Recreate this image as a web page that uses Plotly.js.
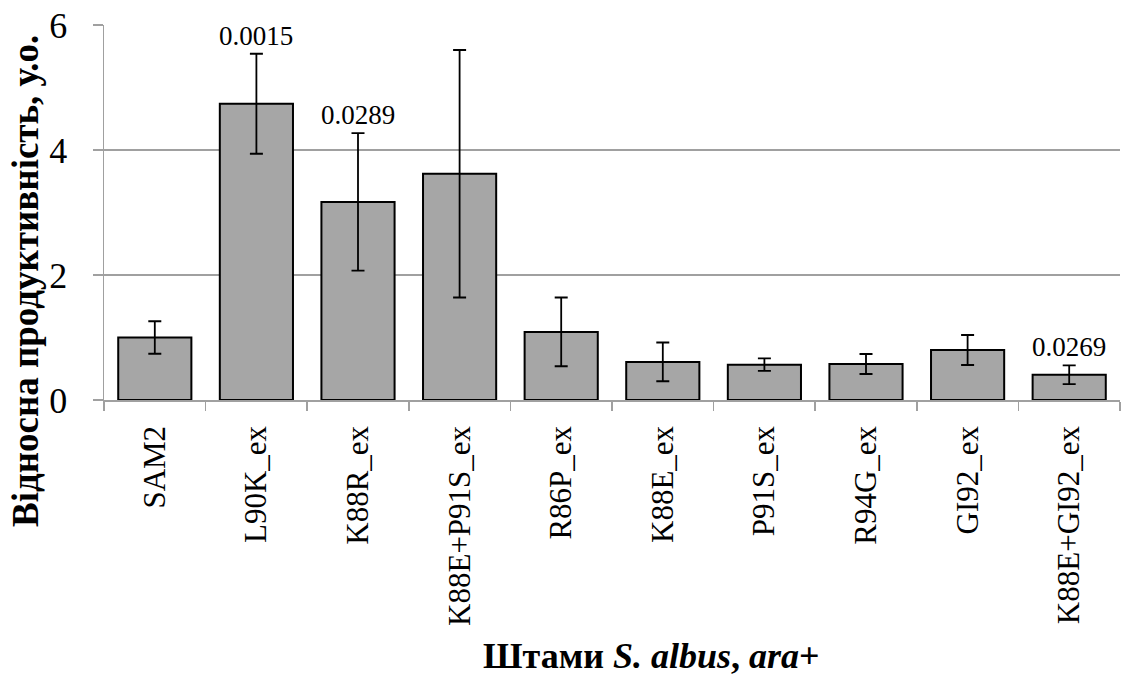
<!DOCTYPE html>
<html><head><meta charset="utf-8">
<script src="https://cdn.plot.ly/plotly-3.0.1.min.js"></script>
<style>html,body{margin:0;padding:0;background:#fff}#chart{width:1123px;height:681px}</style>
</head><body><div id="chart"></div>
<script>
const categories = ["SAM2","L90K_ex","K88R_ex","K88E+P91S_ex","R86P_ex","K88E_ex","P91S_ex","R94G_ex","GI92_ex","K88E+GI92_ex"];
const values = [1.00, 4.74, 3.17, 3.62, 1.09, 0.61, 0.565, 0.576, 0.80, 0.405];
const errors = [0.26, 0.80, 1.10, 1.98, 0.55, 0.31, 0.10, 0.16, 0.24, 0.15];
const pLabels = ["", "0.0015", "0.0289", "", "", "", "", "", "", "0.0269"];
const yTicks = [0, 2, 4, 6];
const xTitle = "<b>Штами <i>S. albus</i>, <i>ara</i>+</b>";
const yTitle = "<b>Відносна продуктивність, у.о.</b>";

const font = "Liberation Serif";
const annotations = [];
categories.forEach((c, i) => {
  if (pLabels[i]) annotations.push({
    x: c, y: values[i] + errors[i], text: pLabels[i], showarrow: false,
    yanchor: "bottom", yshift: 1, font: {family: font, size: 27, color: "#000"}
  });
});
annotations.push({
  xref: "paper", yref: "paper", x: 0.539, y: -0.683, xanchor: "center", yanchor: "middle",
  text: xTitle, showarrow: false, font: {family: font, size: 36, color: "#000"}
});
annotations.push({
  xref: "paper", yref: "paper", x: 0, xshift: -79, y: 0.3173, xanchor: "center", yanchor: "middle",
  textangle: -90, text: yTitle, showarrow: false, font: {family: font, size: 37, color: "#000"}
});

const trace = {
  type: "bar", x: categories, y: values,
  marker: {color: "#a6a6a6", line: {color: "#000", width: 2}},
  width: 0.72,
  error_y: {type: "data", array: errors, visible: true, color: "#000", thickness: 1.8, width: 6.5}
};

const layout = {
  width: 1123, height: 681,
  margin: {l: 104, r: 3, t: 25, b: 281},
  paper_bgcolor: "#fff", plot_bgcolor: "#fff",
  showlegend: false,
  font: {family: font, color: "#000"},
  xaxis: {
    type: "category", tickangle: -90, tickson: "boundaries",
    ticks: "outside", ticklen: 9, tickcolor: "#a0a0a0", tickwidth: 1.5,
    ticklabelstandoff: 12,
    showline: true, linecolor: "#a0a0a0", linewidth: 1.5,
    showgrid: false,
    tickfont: {family: font, size: 31, color: "#000"}
  },
  yaxis: {
    range: [0, 6], tickvals: yTicks, ticktext: yTicks.map(String),
    ticks: "outside", ticklen: 10, tickcolor: "#a0a0a0", tickwidth: 1.5,
    ticklabelstandoff: 18,
    showline: true, linecolor: "#a0a0a0", linewidth: 1.5,
    showgrid: true, gridcolor: "#a0a0a0", gridwidth: 1.5,
    zeroline: false,
    tickfont: {family: font, size: 36, color: "#000"}
  },
  annotations: annotations
};

Plotly.newPlot("chart", [trace], layout, {staticPlot: true, displayModeBar: false});
</script></body></html>
